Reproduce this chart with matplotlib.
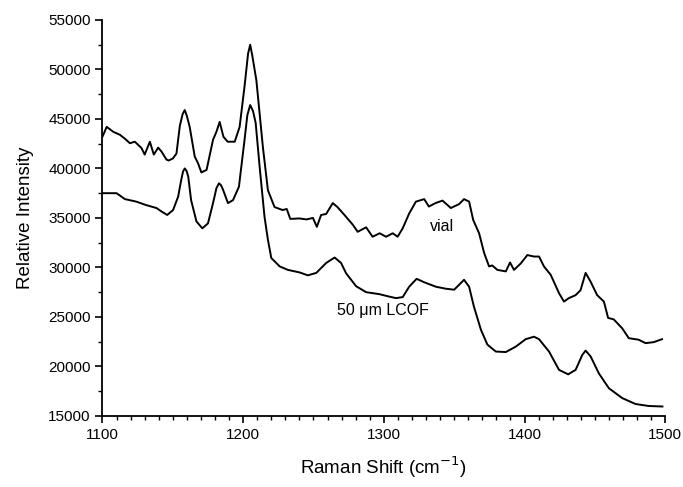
import matplotlib.pyplot as plt
from matplotlib.ticker import MultipleLocator

plt.rcParams['font.family'] = ['Liberation Sans', 'DejaVu Sans']

# vial spectrum
vial_x = [1100, 1103, 1107.7, 1112.4, 1116, 1119.5, 1123, 1127.8, 1130, 1133.7, 1136.5,
          1139.6, 1142, 1145.5, 1147, 1150, 1152.6, 1155, 1157, 1158.5, 1160, 1162, 1165.6,
          1168, 1170.3, 1174, 1178.6, 1181, 1183.3, 1186, 1189, 1194, 1197.5, 1201,
          1203.5, 1205, 1206.5, 1209.4, 1214, 1217.6, 1222.3, 1228, 1231, 1233.5, 1240,
          1245, 1249.6, 1252.4, 1255.4, 1259, 1263.7, 1267, 1272, 1278, 1281.4, 1287.4,
          1292, 1297, 1301.6, 1306.3, 1309.8, 1313.4, 1318, 1322.8, 1328.7, 1332, 1336.7,
          1341.7, 1347.6, 1353.5, 1357, 1360.6, 1363.5, 1367.7, 1371.3, 1374.8, 1377,
          1380.7, 1386.7, 1389.7, 1392.5, 1397.3, 1402, 1406.7, 1410.3, 1413.8, 1418.6,
          1424.5, 1428, 1431.5, 1436.3, 1439.8, 1443.4, 1447, 1451.6, 1456.4, 1459.4,
          1463.4, 1469.4, 1474.1, 1481, 1486, 1491.8, 1497.7]
vial_y = [43200, 44200, 43700, 43400, 43000, 42550, 42700, 42050, 41400, 42700, 41400,
          42100, 41700, 40900, 40800, 41000, 41500, 44300, 45500, 45900, 45300, 44200,
          41200, 40500, 39600, 39850, 42900, 43700, 44700, 43200, 42700, 42700, 44200,
          48300, 51600, 52500, 51400, 48900, 42200, 37800, 36100, 35800, 35900, 34900,
          34950, 34850, 35000, 34100, 35300, 35400, 36500, 36100, 35300, 34300, 33600,
          34050, 33100, 33450, 33100, 33450, 33100, 33950, 35450, 36650, 36900, 36150,
          36500, 36750, 36000, 36400, 36900, 36650, 34800, 33450, 31450, 30100, 30200,
          29750, 29600, 30500, 29750, 30400, 31250, 31100, 31100, 30100, 29250, 27400,
          26550, 26900, 27200, 27700, 29450, 28550, 27200, 26550, 24900, 24750, 23850,
          22850, 22700, 22350, 22450, 22750]

# 50 um LCOF spectrum
lcof_x = [1100, 1110, 1116, 1124, 1131, 1138.4, 1142, 1146, 1150.2, 1153.8, 1156, 1157.3,
          1158.5, 1159.8, 1161, 1163, 1166.8, 1171, 1175, 1178.6, 1181, 1182.8, 1184.3,
          1185.7, 1189.2, 1192.8, 1197, 1201, 1203, 1205, 1207, 1208.9, 1211.7, 1215.2,
          1217.6, 1220, 1226, 1231.8, 1240, 1246, 1252, 1259, 1265, 1269.6, 1273.2,
          1280.3, 1287.4, 1296.8, 1303.9, 1308.6, 1313.4, 1318, 1323.3, 1328.7, 1337,
          1344, 1350, 1353.5, 1357, 1360.6, 1364, 1369, 1373.6, 1379.6, 1386.7, 1393.8,
          1400.8, 1406.7, 1410.3, 1417.4, 1424.5, 1431, 1436.3, 1441, 1443.4, 1447,
          1452.8, 1459.9, 1469.4, 1478.9, 1488.3, 1498]
lcof_y = [37500, 37500, 36900, 36650, 36300, 36000, 35650, 35300, 35800, 37150, 38850,
          39700, 40000, 39750, 39150, 36800, 34650, 33950, 34450, 36500, 38000, 38500,
          38300, 37850, 36500, 36800, 38150, 42900, 45400, 46400, 45800, 44600, 40200,
          35100, 32800, 30950, 30100, 29750, 29500, 29200, 29450, 30450, 31000, 30450,
          29400, 28100, 27500, 27300, 27050, 26900, 27000, 28050, 28850, 28500, 28050,
          27850, 27750, 28250, 28750, 28050, 26050, 23700, 22200, 21500, 21450, 22000,
          22750, 23000, 22750, 21500, 19650, 19200, 19650, 21150, 21600, 21000, 19300,
          17800, 16800, 16200, 16000, 15950]

fig = plt.figure(figsize=(6.83, 4.87), dpi=100)
ax = fig.add_axes([0.15, 0.146, 0.824, 0.813])

ax.plot(vial_x, vial_y, color='black', lw=1.4)
ax.plot(lcof_x, lcof_y, color='black', lw=1.4)

ax.text(1341, 34100, 'vial', fontsize=11.5, ha='center', va='center')
ax.text(1267, 25600, '50 \u03bcm LCOF', fontsize=11.5, ha='left', va='center')

ax.set_xlim(1100, 1500)
ax.set_ylim(15000, 55000)
ax.xaxis.set_major_locator(MultipleLocator(100))
ax.xaxis.set_minor_locator(MultipleLocator(10))
ax.yaxis.set_major_locator(MultipleLocator(5000))
ax.yaxis.set_minor_locator(MultipleLocator(2500))
ax.tick_params(which='major', direction='out', length=5, width=1.2, labelsize=11)
ax.tick_params(which='minor', direction='out', length=3, width=1.0)

for side in ['top', 'right']:
    ax.spines[side].set_visible(False)
for side in ['left', 'bottom']:
    ax.spines[side].set_linewidth(1.3)

ax.set_xlabel('Raman Shift (cm$^{-1}$)', fontsize=13.5, labelpad=9)
ax.set_ylabel('Relative Intensity', fontsize=13.5, labelpad=10)

fig.savefig('out.png', dpi=100)
